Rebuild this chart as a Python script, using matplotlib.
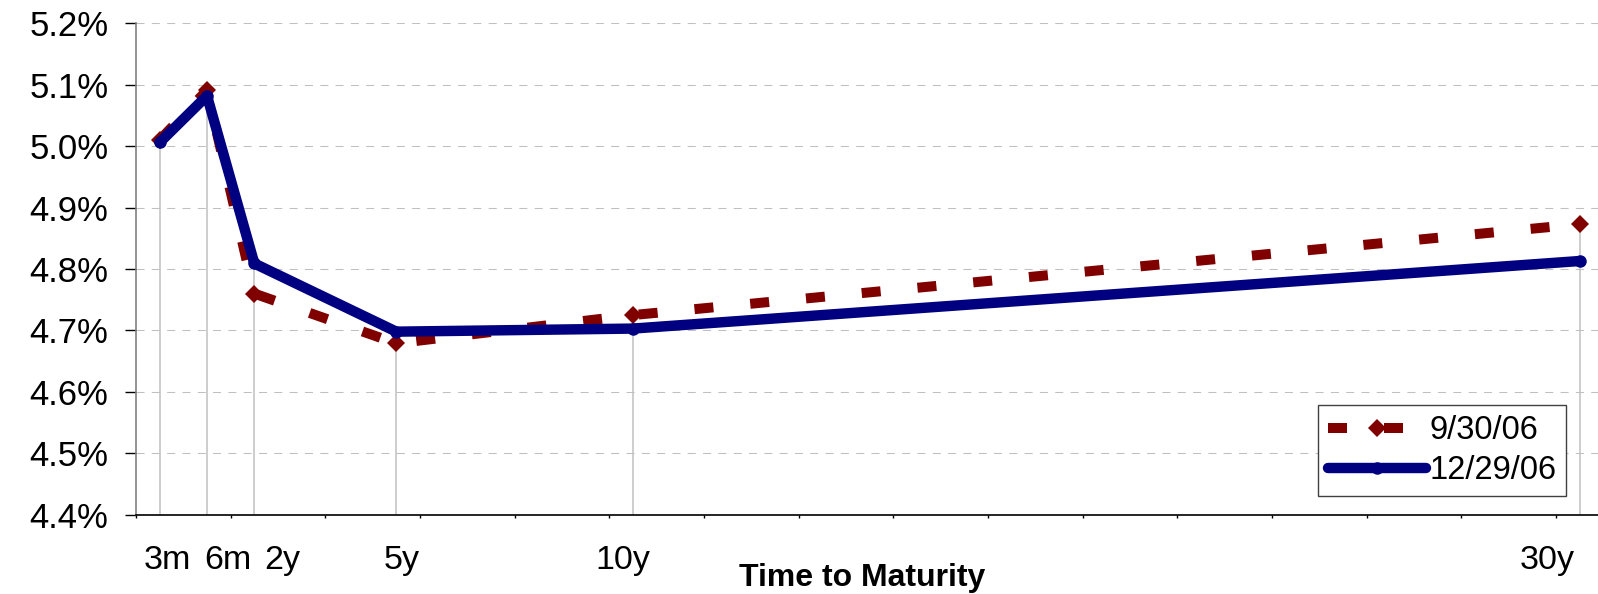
import matplotlib
matplotlib.use("Agg")
import matplotlib.pyplot as plt
import numpy as np

plt.rcParams['font.family'] = ['Liberation Sans', 'DejaVu Sans']

# Data
maturities = ['3m', '6m', '2y', '5y', '10y', '30y']
x_pos = [0, 1, 2, 5, 10, 30]
sep_30_06 = [5.01, 5.091, 4.760, 4.679, 4.725, 4.873]
dec_29_06 = [5.006, 5.082, 4.809, 4.698, 4.703, 4.813]
y_ticks = [4.4, 4.5, 4.6, 4.7, 4.8, 4.9, 5.0, 5.1, 5.2]

W, H = 1598, 594
fig = plt.figure(figsize=(W / 100, H / 100), dpi=100)
left_px, bottom_px, top_px = 136, 514.7, 23.3
ax = fig.add_axes([left_px / W, 1 - bottom_px / H, (W - left_px) / W, (bottom_px - top_px) / H])

px_per_unit = 47.33
xmin = -0.5
xmax = xmin + (W - left_px) / px_per_unit
ax.set_xlim(xmin, xmax)
ax.set_ylim(4.4, 5.2)

# gridlines
for yv in y_ticks[1:]:
    ax.axhline(yv, color='#c0c0c0', lw=0.75, dashes=(7.7, 7.0), zorder=1)

# drop lines
tops = [max(a, b) for a, b in zip(sep_30_06, dec_29_06)]
ax.vlines(x_pos, 4.4, tops, color='#c0c0c0', lw=1.1, zorder=1.5)

ax.plot(x_pos, sep_30_06, color='#800000', lw=7.2, dashes=(1.9, 3.7),
        marker='D', ms=9.4, mew=0, label='9/30/06', zorder=3)
ax.plot(x_pos, dec_29_06, color='#000080', lw=7.5, solid_capstyle='round',
        solid_joinstyle='round', marker='o', ms=9.0, mew=0, label='12/29/06', zorder=4)

# axes styling
for s in ['top', 'right']:
    ax.spines[s].set_visible(False)
ax.spines['left'].set_color('#808080')
ax.spines['left'].set_linewidth(1.2)
ax.spines['bottom'].set_color('black')
ax.spines['bottom'].set_linewidth(1.2)

ax.set_yticks(y_ticks)
ax.set_yticklabels([f'{v:.1f}%' for v in y_ticks], fontsize=25)
ax.tick_params(axis='y', direction='out', length=8, width=1, color='black', pad=12)

# category labels (slightly offset from the data positions, as in the reference)
label_offsets_px = [8, 21, 28, 5, -10, -32]
label_x = [x + o / px_per_unit for x, o in zip(x_pos, label_offsets_px)]
ax.set_xticks(label_x)
ax.set_xticklabels(maturities, fontsize=24.5)
ax.tick_params(axis='x', which='major', length=0, pad=22)
ax.set_xticks(np.arange(xmin, xmax, 2.0), minor=True)
ax.tick_params(axis='x', which='minor', direction='out', length=2.5, width=1, color='black')

fig.text(862 / W, 1 - 586 / H, 'Time to Maturity', fontsize=23, fontweight='bold',
         ha='center', va='baseline')

leg = ax.legend(loc='lower right', bbox_to_anchor=((1566 - left_px) / (W - left_px), (bottom_px - 496) / (bottom_px - top_px)),
                fontsize=23.5, frameon=True, fancybox=False, framealpha=1, borderpad=0.3,
                labelspacing=0.28, handlelength=3.0, handletextpad=0.1, borderaxespad=0)
leg.get_frame().set_edgecolor('#404040')
leg.get_frame().set_linewidth(1.0)

fig.savefig('out.png', dpi=100)
